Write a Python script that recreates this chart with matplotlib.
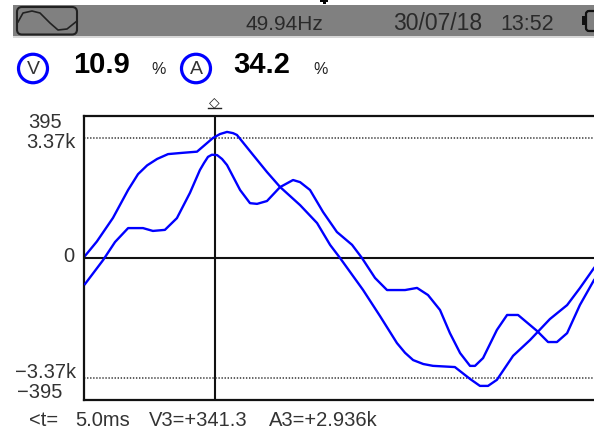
import matplotlib
matplotlib.use("Agg")
import matplotlib.pyplot as plt
from matplotlib.patches import Rectangle, FancyBboxPatch, Ellipse

plt.rcParams['font.family'] = ['Liberation Sans', 'DejaVu Sans']

t_v = [0.04, 0.49, 1.11, 1.69, 2.07, 2.42, 2.80, 3.22, 3.75, 4.33, 4.94, 5.21, 5.48, 5.71, 5.86, 6.48, 7.01, 7.51,
       8.28, 8.93, 9.43, 9.81, 10.69, 11.34, 11.99, 12.30, 12.61, 13.00, 13.37, 14.21, 14.79, 15.17, 15.48,
       15.82, 16.44, 17.09, 17.85, 18.51, 19.00, 19.54]
volts = [7, 54, 132, 224, 276, 305, 326, 342, 346, 350, 395, 408, 415, 411, 405, 339, 283, 234,
         174, 115, 43, 0, -105, -191, -280, -312, -336, -349, -355, -359, -398, -421, -421,
         -401, -322, -270, -201, -155, -99, -33]
t_a = [0.04, 0.73, 1.19, 1.69, 2.26, 2.64, 3.10, 3.56, 4.06, 4.44, 4.60, 4.75, 4.90, 5.10, 5.29, 5.48, 5.98, 6.36,
       6.63, 7.01, 7.51, 8.01, 8.28, 8.66, 9.16, 9.69, 10.27, 10.65, 11.15, 11.61, 12.30, 12.76,
       13.18, 13.64, 14.02, 14.41, 14.79, 14.98, 15.29, 15.82, 16.21, 16.63, 17.36, 17.78, 18.12,
       18.51, 19.00, 19.54]
kamps = [-0.73, -0.06, 0.45, 0.84, 0.84, 0.76, 0.79, 1.12, 1.83, 2.47, 2.67, 2.84, 2.90, 2.89, 2.78, 2.61, 1.91, 1.54,
         1.52, 1.60, 1.99, 2.19, 2.13, 1.91, 1.29, 0.73, 0.37, 0, -0.56, -0.90, -0.90, -0.84,
         -1.04, -1.46, -2.11, -2.67, -3.03, -3.03, -2.81, -2.02, -1.60, -1.60, -2.05, -2.36, -2.36,
         -2.11, -1.32, -0.62]
cursor_ms = 5.0
v_scale = 395
a_scale = 3.37
frequency = "49.94Hz"
date_text = "30/07/18"
time_text = "13:52"
v_thd = "10.9"
a_thd = "34.2"
readout = ["<t=", "5.0ms", "V3=+341.3", "A3=+2.936k"]
icon_x = [18, 23, 32, 40, 50, 58, 67, 77]
icon_y = [22, 13, 11, 13, 23, 30, 29, 21]

W, H = 594, 433
fig = plt.figure(figsize=(W/100, H/100), dpi=100, facecolor='white')
bg = fig.add_axes([0, 0, 1, 1])
bg.set_xlim(0, W); bg.set_ylim(H, 0); bg.axis('off')

# cropped descender above the band
bg.add_patch(Rectangle((320, 0), 8, 1.6, fc='black', ec='none'))
bg.add_patch(Rectangle((323, 1.6), 2.5, 2, fc='black', ec='none'))

# header band
bg.add_patch(Rectangle((13, 5), W-13, 31, fc='#808080', ec='none'))
bg.add_patch(Rectangle((13, 36), W-13, 1.7, fc='#d8d8d8', ec='none'))
bg.add_patch(FancyBboxPatch((17, 7), 60, 27.5, boxstyle='round,pad=0,rounding_size=5', fc='none', ec='#222222', lw=1.5))
bg.plot(icon_x, icon_y, color='#222222', lw=1.2)
bg.text(245, 24, frequency, fontsize=15, color='#2a2a2a', va='center')
bg.text(393, 24, date_text, fontsize=16.5, color='#2a2a2a', va='center')
bg.text(500, 24, time_text, fontsize=15.5, color='#2a2a2a', va='center')
# battery
bg.add_patch(Rectangle((582, 16), 5, 9, fc='#111111', ec='none'))
bg.add_patch(FancyBboxPatch((586, 11), 12, 20, boxstyle='round,pad=0,rounding_size=3', fc='#808080', ec='#111111', lw=1.6, clip_on=True))

# readings
for cx, s in [(33, 'V'), (196, 'A')]:
    bg.add_patch(Ellipse((cx, 68.5), 29, 28.5, fc='white', ec='#0000ff', lw=2.3))
    bg.text(cx, 69, s, fontsize=14, color='#333333', ha='center', va='center')
bg.text(73, 65, v_thd, fontsize=21, fontweight='bold', color='black', va='center')
bg.text(233, 65, a_thd, fontsize=21, fontweight='bold', color='black', va='center')
for x in (159, 321):
    bg.text(x, 69.5, '%', fontsize=11.5, color='#222222', ha='center', va='center')
bg.text(214.5, 102, '\u25c7', fontsize=10, color='#222222', ha='center', va='center')
bg.plot([208, 221], [108, 108], color='#222222', lw=1)

# plot
ax = fig.add_axes([84/W, 1-400/H, 1-84/W, 284/H], facecolor='none')
vlim = v_scale*142/120
alim = a_scale*142/120
ax.set_xlim(0, 19.54)
ax.set_ylim(-vlim, vlim)
ax.set_xticks([]); ax.set_yticks([])
for side in ('top', 'left', 'bottom'):
    ax.spines[side].set_linewidth(1.6)
    ax.spines[side].set_color('#111111')
ax.spines['right'].set_visible(False)
ax.axhline(0, color='#111111', lw=1.5)
ax.axvline(cursor_ms, color='#111111', lw=1.5)
for s in (1, -1):
    ax.axhline(s*v_scale, color='#333333', lw=1.1, ls=(0, (0.9, 1.1)))
ax.plot(t_v, volts, color='#0000ff', lw=1.7)
ax2 = ax.twinx()
ax2.set_ylim(-alim, alim)
ax2.set_yticks([])
ax2.patch.set_visible(False)
for sp in ax2.spines.values():
    sp.set_visible(False)
ax2.plot(t_a, kamps, color='#0000ff', lw=1.7)

# scale labels
for lab, x, y in [('395', 62, 123), ('3.37k', 76, 143), ('0', 74, 256), ('\u22123.37k', 76, 372), ('\u2212395', 62, 392)]:
    bg.text(x, y, lab, fontsize=14.5, color='#333333', ha='right', va='center')

# readout
for x, s in zip([29, 75, 149, 269], readout):
    bg.text(x, 420, s, fontsize=14.5, color='#333333', va='center')

fig.savefig('out.png', dpi=100)
